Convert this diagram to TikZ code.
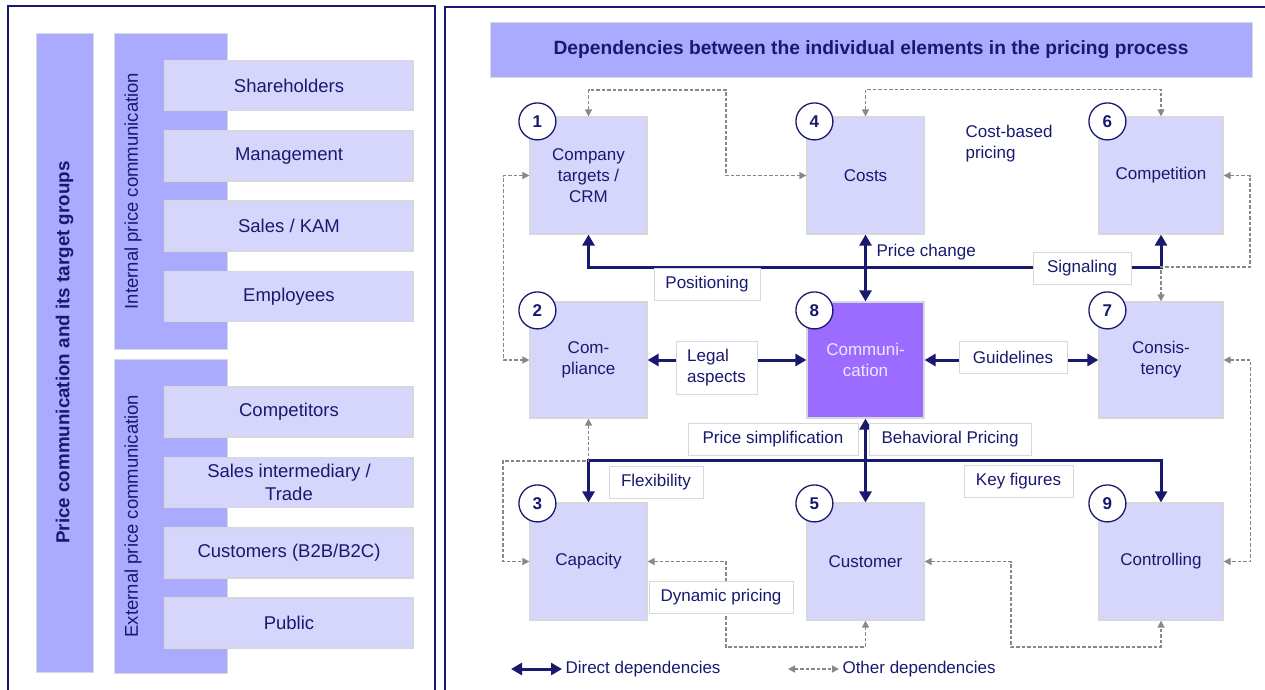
\documentclass[tikz,border=0pt]{standalone}
\usepackage{fontspec}
\setmainfont{Liberation Sans}
\usetikzlibrary{arrows.meta}
\definecolor{navy}{RGB}{25,25,112}
\definecolor{barblue}{RGB}{170,170,255}
\definecolor{boxblue}{RGB}{214,214,252}
\definecolor{commviolet}{RGB}{155,108,255}
\definecolor{commtext}{RGB}{236,232,255}
\definecolor{dashgray}{RGB}{136,136,136}
\definecolor{edgegray}{RGB}{215,215,222}

\begin{document}
\begin{tikzpicture}[x=1pt, y=-1pt, font=\fontsize{17pt}{21pt}\selectfont, text=navy,
  bar/.style={fill=barblue, draw=edgegray, line width=0.8pt},
  item/.style={fill=boxblue, draw=edgegray, line width=1.2pt, minimum width=248pt, minimum height=50pt, align=center, font=\fontsize{18.5pt}{23pt}\selectfont},
  elem/.style={fill=boxblue, draw=edgegray, line width=1.2pt, minimum width=117pt, minimum height=117pt, align=center},
  num/.style={circle, draw=navy, line width=1.3pt, fill=white, minimum size=37pt, inner sep=0pt, font=\fontsize{17pt}{17pt}\selectfont\bfseries},
  lbl/.style={fill=white, draw=edgegray, line width=0.8pt, minimum height=32pt, inner xsep=9pt, align=left},
  direct/.style={draw=navy, line width=3pt, {Triangle[length=11pt,width=12pt]}-{Triangle[length=11pt,width=12pt]}},
  other/.style={draw=dashgray, line width=1.5pt, dash pattern=on 3.5pt off 2pt, {Triangle[length=7pt,width=7pt]}-{Triangle[length=7pt,width=7pt]}},
  frame/.style={draw=navy, line width=1.5pt}]
\useasboundingbox (0,0) rectangle (1265,689);
\clip (0,0) rectangle (1265,689);
\draw[frame] (8,6) rectangle (435,700);
\draw[frame] (445,7) rectangle (1280,700);

% target groups
\node[bar, rotate=90, minimum width=639pt, minimum height=57pt, font=\fontsize{18.8pt}{23pt}\selectfont\bfseries] (tg) at (64.5,352.5) {Price communication and its target groups};
\node[bar, minimum width=113pt, minimum height=316pt] (ib) at (170.5,191) {};
\node[rotate=90, font=\fontsize{18.5pt}{23pt}\selectfont] (it) at (133,191) {Internal price communication};
\node[bar, minimum width=113pt, minimum height=314pt] (eb) at (170.5,516) {};
\node[rotate=90, font=\fontsize{18.5pt}{23pt}\selectfont] (et) at (133,516) {External price communication};
\node[item] (sh) at (289,85.5) {Shareholders};
\node[item] (mg) at (289,156) {Management};
\node[item] (sk) at (289,226) {Sales / KAM};
\node[item] (em) at (289,296.5) {Employees};
\node[item] (co) at (289,412) {Competitors};
\node[item] (si) at (289,482.5) {Sales intermediary /\\Trade};
\node[item] (cu) at (289,553) {Customers (B2B/B2C)};
\node[item] (pu) at (289,623) {Public};

% dependencies
\node[bar, minimum width=762pt, minimum height=55pt, font=\fontsize{19.2pt}{22pt}\selectfont\bfseries] (title) at (871,50) {Dependencies between the individual elements in the pricing process};
\node[elem] (b1) at (588.5,175.5) {Company\\targets /\\CRM};
\node[elem] (b4) at (865.5,175.5) {Costs};
\node[elem, minimum width=124pt] (b6) at (1161,175.5) {Competition};
\node[elem, minimum height=116pt] (b2) at (588.5,360) {Com-\\pliance};
\node[elem, minimum height=116pt, fill=commviolet, text=commtext] (b8) at (865.5,360) {Communi-\\cation};
\node[elem, minimum height=116pt, minimum width=124pt] (b7) at (1161,360) {Consis-\\tency};
\node[elem] (b3) at (588.5,561.5) {Capacity};
\node[elem] (b5) at (865.5,561.5) {Customer};
\node[elem, minimum width=124pt] (b9) at (1161,561.5) {Controlling};
\node[num] (n1) at ([shift={(8,5)}]b1.north west) {1};
\node[num] (n4) at ([shift={(8,5)}]b4.north west) {4};
\node[num] (n6) at ([shift={(9,5)}]b6.north west) {6};
\node[num] (n2) at ([shift={(8,9)}]b2.north west) {2};
\node[num] (n8) at ([shift={(8,9)}]b8.north west) {8};
\node[num] (n7) at ([shift={(9,9)}]b7.north west) {7};
\node[num] (n3) at ([shift={(8,1)}]b3.north west) {3};
\node[num] (n5) at ([shift={(8,1)}]b5.north west) {5};
\node[num] (n9) at ([shift={(9,1)}]b9.north west) {9};

\draw[direct] (b1.south) -- ++(0,33) -| (b6.south);
\draw[direct] (b4.south) -- (b8.north);
\draw[direct] (b2.east) -- (b8.west);
\draw[direct] (b8.east) -- (b7.west);
\draw[direct] (b3.north) -- ++(0,-42) -| (b9.north);
\draw[direct] (b8.south) -- (b5.north);

\coordinate (c1) at (726,90);
\coordinate (c2) at (503,461);
\coordinate (c3) at (726,647);
\coordinate (c4) at (1011,647);
\coordinate (c5) at (1250,267);
\draw[other] (b1.north) |- (c1) |- (b4.west);
\draw[other] (b4.north) -- ++(0,-27) -| (b6.north);
\draw[other] (b1.west) -- ++(-26,0) |- (b2.west);
\draw[other] (b2.south) |- (c2) |- (b3.west);
\draw[other] (b3.east) -| (c3) -| (b5.south);
\draw[other] (b5.east) -| (c4) -| (b9.south);
\draw[other] (b6.east) -| (c5) -| (b7.north);
\draw[other] (b7.east) -- ++(27,0) |- (b9.east);

\node[lbl, minimum width=106pt] (pos) at (707,284.5) {Positioning};
\node[anchor=west] (pc) at (873,252) {Price change};
\node[lbl, minimum width=98pt] (sig) at (1082,268.5) {Signaling};
\node[anchor=west, align=left] (cb) at (962,143.5) {Cost-based\\pricing};
\node[lbl, minimum width=81pt, minimum height=53pt, inner xsep=6pt] (la) at (716.5,367.5) {Legal\\aspects};
\node[lbl, minimum width=108pt] (gl) at (1013,357) {Guidelines};
\node[lbl, minimum width=170pt] (ps) at (773,439) {Price simplification};
\node[lbl, minimum width=162pt] (bp) at (950,439) {Behavioral Pricing};
\node[lbl, minimum width=94pt] (fx) at (656,482) {Flexibility};
\node[lbl, minimum width=109pt] (kf) at (1018.5,481) {Key figures};
\node[lbl, minimum width=144pt] (dp) at (721,597) {Dynamic pricing};

% legend
\coordinate (l1) at (511,669);
\node[anchor=west] (ld) at (562,669) {Direct dependencies};
\draw[direct] (l1) -- (ld);
\coordinate (l2) at (788,669);
\node[anchor=west] (lo) at (839,669) {Other dependencies};
\draw[other] (l2) -- (lo);
\end{tikzpicture}
\end{document}
